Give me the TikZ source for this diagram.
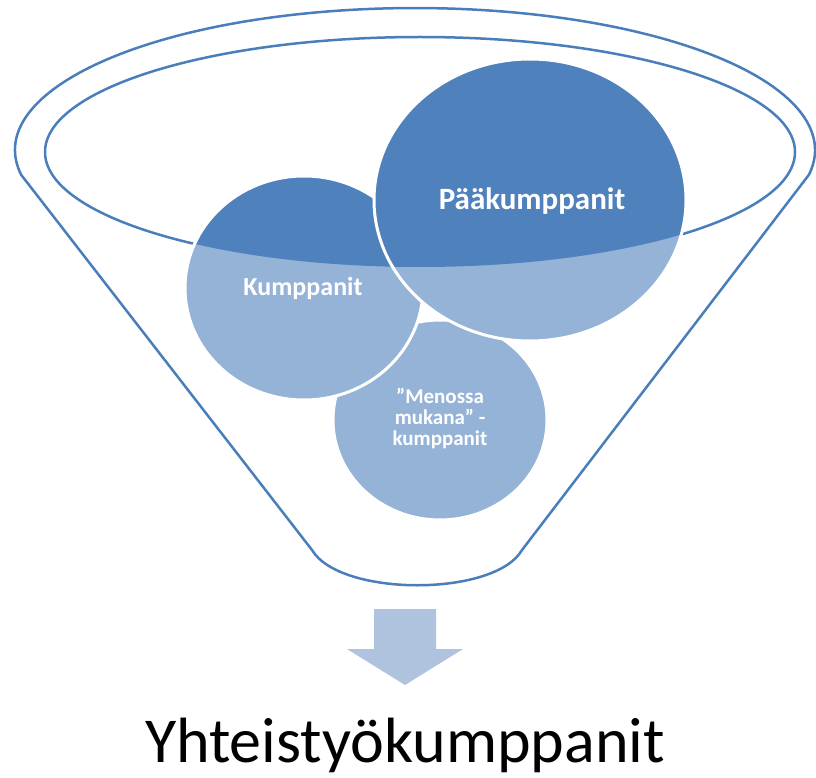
\documentclass[tikz,border=0pt]{standalone}
\usepackage{fontspec}
\setmainfont{Carlito}
\begin{document}
\begin{tikzpicture}[x=1pt,y=-1pt,
  funnelline/.style={draw=lineblue, line width=2.5pt, line join=round},
  ringline/.style={draw=white, line width=3pt},
  lbl/.style={text=white, font=\bfseries, inner sep=0pt, anchor=base}]
\definecolor{lineblue}{HTML}{4A7EBB}
\definecolor{darkblue}{HTML}{4F81BD}
\definecolor{lightblue}{HTML}{95B3D7}
\definecolor{arrowblue}{HTML}{AFC2DE}
\useasboundingbox (0,0) rectangle (816,778);
% funnel outline
\draw[funnelline] (21.1,174.7) arc[start angle=190, end angle=-10, x radius=400pt, y radius=142pt]
  -- (522,550) .. controls (495,597) and (340,597) .. (312,550) -- cycle;
% inner rim
\draw[funnelline] (420,152) ellipse [x radius=375pt, y radius=115pt];
% circles: bottom, left, big
\foreach \cx/\cy/\rx/\ry in {440/420/107/100, 304/288/119/112, 530/200/156/141}{
  \fill[lightblue] (\cx,\cy) ellipse [x radius=\rx pt, y radius=\ry pt];
  \begin{scope}
    \clip (420,152) ellipse [x radius=375pt, y radius=115pt];
    \fill[darkblue] (\cx,\cy) ellipse [x radius=\rx pt, y radius=\ry pt];
  \end{scope}
  \draw[ringline] (\cx,\cy) ellipse [x radius=\rx pt, y radius=\ry pt];
}
% labels
\node[lbl, font=\bfseries\fontsize{31}{36}\selectfont] (main) at (532,210) {Pääkumppanit};
\node[lbl, font=\bfseries\fontsize{26}{30}\selectfont] (kump) at (303,295) {Kumppanit};
\node[lbl, font=\bfseries\fontsize{21}{22}\selectfont] (m1) at (440,403) {”Menossa};
\node[lbl, font=\bfseries\fontsize{21}{22}\selectfont] (m2) at (440,424) {mukana” -};
\node[lbl, font=\bfseries\fontsize{21}{22}\selectfont] (m3) at (440,445) {kumppanit};
% arrow
\fill[arrowblue] (374,609) -- (436,609) -- (436,649) -- (463,649) -- (405,685) -- (347,649) -- (374,649) -- cycle;
% bottom title
\node[inner sep=0pt, anchor=base, font=\fontsize{64}{70}\selectfont] (title) at (405,762) {Yhteistyökumppanit};
\end{tikzpicture}
\end{document}
